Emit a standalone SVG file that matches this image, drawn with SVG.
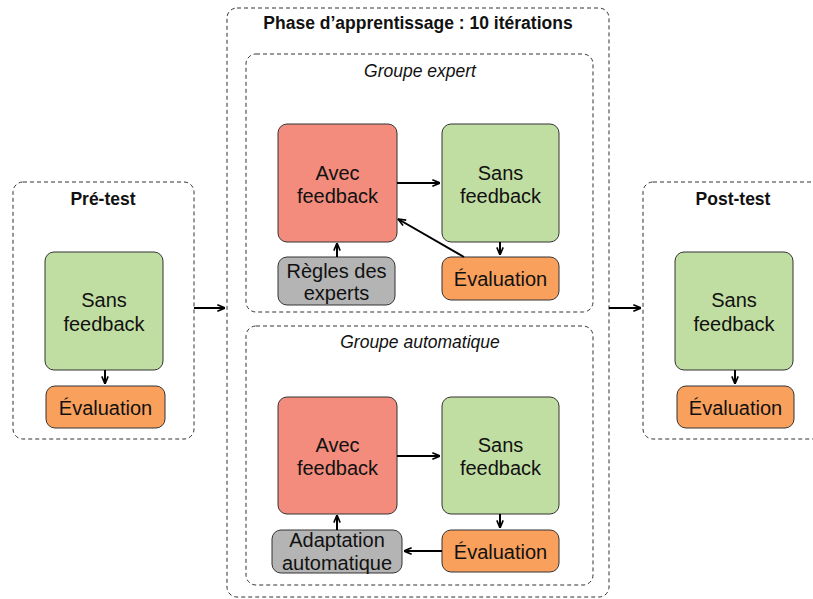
<svg xmlns="http://www.w3.org/2000/svg" width="813" height="599" viewBox="0 0 813 599">
<defs>
<marker id="ah" viewBox="0 0 10 10" refX="9.5" refY="5" markerWidth="9" markerHeight="9" markerUnits="userSpaceOnUse" orient="auto">
<path d="M1,1.5 L9.5,5 L1,8.5" fill="none" stroke="#000" stroke-width="1.8"/>
</marker>
<style>
.cont{fill:#fff;stroke:#333;stroke-width:1;stroke-dasharray:4 3}
.n{stroke:#333;stroke-width:1}
.red{fill:#F38C7D}
.green{fill:#C1DEA2}
.orange{fill:#F9A05C}
.gray{fill:#B4B4B4}
.t{font-family:"Liberation Sans",Arial,Helvetica,sans-serif;font-size:20px;fill:#111;text-anchor:middle}
.title{font-family:"Liberation Sans",Arial,Helvetica,sans-serif;font-size:17.5px;font-weight:bold;fill:#111;text-anchor:middle}
.sub{font-family:"Liberation Sans",Arial,Helvetica,sans-serif;font-size:17.5px;font-style:italic;fill:#111;text-anchor:middle}
.c{stroke:#000;stroke-width:2;fill:none;marker-end:url(#ah)}
</style>
</defs>
<rect width="813" height="599" fill="#fff"/>

<g id="pretest">
<rect class="cont" x="13" y="182" width="181" height="257" rx="10"/>
<text class="title" x="103" y="205">Pré-test</text>
</g>
<g id="phase">
<rect class="cont" x="227" y="8" width="382" height="589" rx="10"/>
<text class="title" x="418" y="29">Phase d’apprentissage : 10 itérations</text>
</g>
<g id="groupe-expert">
<rect class="cont" x="246" y="54" width="347" height="258" rx="10"/>
<text class="sub" x="420" y="77">Groupe expert</text>
</g>
<g id="groupe-auto">
<rect class="cont" x="246" y="326" width="347" height="259" rx="10"/>
<text class="sub" x="420" y="348">Groupe automatique</text>
</g>
<g id="posttest">
<rect class="cont" x="643" y="182" width="181" height="257" rx="10"/>
<text class="title" x="733" y="205">Post-test</text>
</g>

<g id="pre-sans">
<rect class="n green" x="45" y="252" width="118" height="118" rx="9"/>
<text class="t" x="104" y="307">Sans</text>
<text class="t" x="104" y="331">feedback</text>
</g>
<g id="pre-eval">
<rect class="n orange" x="46" y="386" width="119" height="42" rx="9"/>
<text class="t" x="105.5" y="414.5">Évaluation</text>
</g>

<g id="exp-avec">
<rect class="n red" x="278" y="124" width="119" height="118" rx="9"/>
<text class="t" x="337.5" y="180">Avec</text>
<text class="t" x="337.5" y="203">feedback</text>
</g>
<g id="exp-sans">
<rect class="n green" x="442" y="124" width="117" height="118" rx="9"/>
<text class="t" x="500.5" y="180">Sans</text>
<text class="t" x="500.5" y="203">feedback</text>
</g>
<g id="exp-regles">
<rect class="n gray" x="278" y="257" width="117" height="48" rx="9"/>
<text class="t" x="336.5" y="278">Règles des</text>
<text class="t" x="336.5" y="300">experts</text>
</g>
<g id="exp-eval">
<rect class="n orange" x="442" y="257" width="117" height="43" rx="9"/>
<text class="t" x="500.5" y="286">Évaluation</text>
</g>

<g id="auto-avec">
<rect class="n red" x="278" y="397" width="119" height="117" rx="9"/>
<text class="t" x="337.5" y="452">Avec</text>
<text class="t" x="337.5" y="475">feedback</text>
</g>
<g id="auto-sans">
<rect class="n green" x="442" y="397" width="117" height="117" rx="9"/>
<text class="t" x="500.5" y="452">Sans</text>
<text class="t" x="500.5" y="475">feedback</text>
</g>
<g id="auto-adapt">
<rect class="n gray" x="272" y="530" width="130" height="43" rx="9"/>
<text class="t" x="337" y="547">Adaptation</text>
<text class="t" x="337" y="570">automatique</text>
</g>
<g id="auto-eval">
<rect class="n orange" x="442" y="530" width="117" height="42" rx="9"/>
<text class="t" x="500.5" y="558.5">Évaluation</text>
</g>

<g id="post-sans">
<rect class="n green" x="675" y="252" width="118" height="118" rx="9"/>
<text class="t" x="734" y="307">Sans</text>
<text class="t" x="734" y="331">feedback</text>
</g>
<g id="post-eval">
<rect class="n orange" x="677" y="386" width="117" height="42" rx="9"/>
<text class="t" x="735.5" y="414.5">Évaluation</text>
</g>

<g id="connectors">
<line class="c" x1="105" y1="370" x2="105" y2="384"/>
<line class="c" x1="194" y1="308" x2="225" y2="308"/>
<line class="c" x1="609" y1="308" x2="641" y2="308"/>
<line class="c" x1="735" y1="370" x2="735" y2="384"/>
<line class="c" x1="397" y1="183" x2="440" y2="183"/>
<line class="c" x1="500" y1="242" x2="500" y2="255"/>
<line class="c" x1="464" y1="257" x2="398" y2="219"/>
<line class="c" x1="337" y1="257" x2="337" y2="243"/>
<line class="c" x1="397" y1="456" x2="440" y2="456"/>
<line class="c" x1="500" y1="514" x2="500" y2="528"/>
<line class="c" x1="442" y1="551" x2="404" y2="551"/>
<line class="c" x1="337" y1="530" x2="337" y2="515"/>
</g>
</svg>
